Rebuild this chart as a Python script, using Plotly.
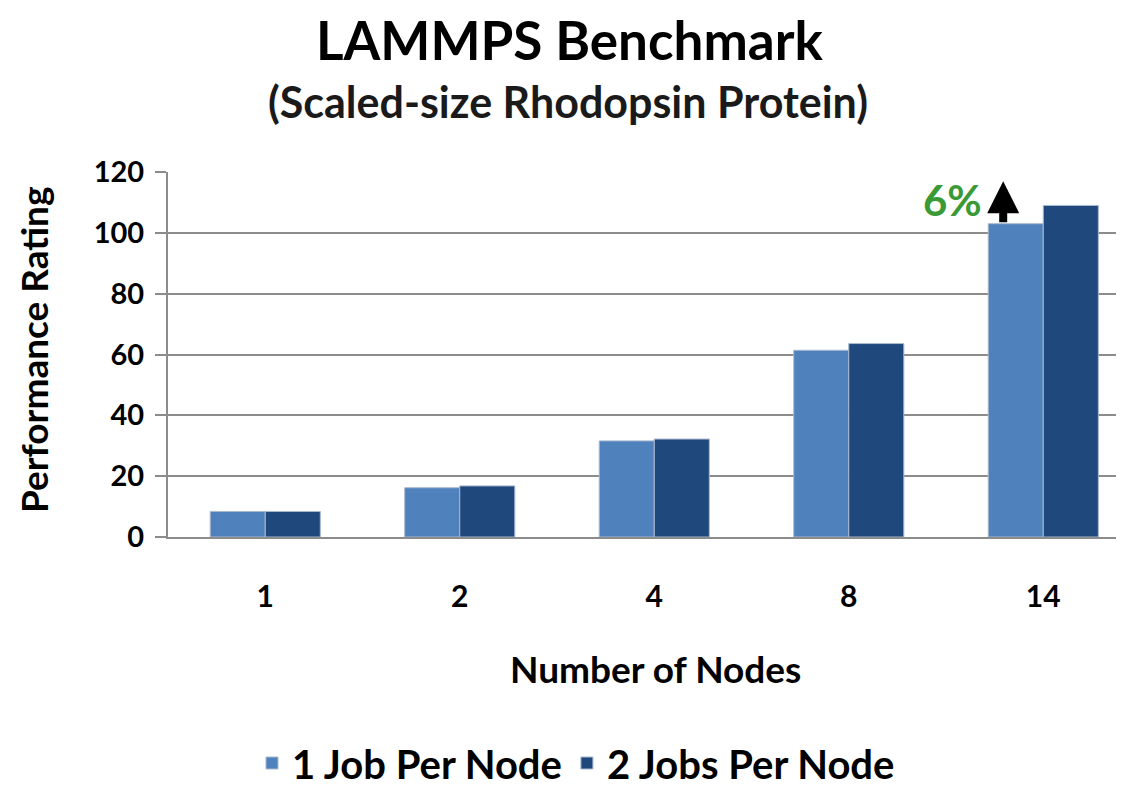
import plotly.graph_objects as go

categories = ["1", "2", "4", "8", "14"]
one_job = [8.4, 16.2, 31.6, 61.4, 103.0]
two_jobs = [8.4, 16.8, 32.2, 63.6, 109.0]
series_names = ["1 Job Per Node", "2 Jobs Per Node"]
y_ticks = [0, 20, 40, 60, 80, 100, 120]
gain_label = "6%"

FONT = "Lato"
light = "#4f81bd"
dark = "#1f497d"
grid = "#8c8c8c"

fig = go.Figure()
fig.add_trace(go.Bar(x=categories, y=one_job, name=series_names[0],
                     marker=dict(color=light, line=dict(color="#a9b9cf", width=1))))
fig.add_trace(go.Bar(x=categories, y=two_jobs, name=series_names[1],
                     marker=dict(color=dark, line=dict(color="#a9b9cf", width=1))))

OFF = 8  # page body margin
W, H = 1124, 789
# desired plot area in page pixels
L_PAGE, R_PAGE, T_PAGE, B_PAGE = 168, 1124, 172, 537
ml = L_PAGE - OFF
mt = T_PAGE - OFF
mb = H - (B_PAGE - OFF)
mr = W - (R_PAGE - OFF)

fig.update_layout(
    width=W, height=H,
    margin=dict(l=ml, r=mr, t=mt, b=mb, autoexpand=False),
    paper_bgcolor="white", plot_bgcolor="white",
    barmode="group", bargap=0.434, bargroupgap=0,
    font=dict(family=FONT, color="black"),
    showlegend=True,
    legend=dict(orientation="h", x=(576 - L_PAGE) / (R_PAGE - L_PAGE), xanchor="center",
                y=(B_PAGE - 763) / (B_PAGE - T_PAGE), yanchor="middle",
                font=dict(family=FONT, size=40, color="black", weight="bold"),
                itemwidth=30, tracegroupgap=0, bgcolor="rgba(0,0,0,0)"),
    xaxis=dict(type="category", range=[-0.5, 4.415], showgrid=False,
               showline=True, linecolor=grid, linewidth=2, ticks="",
               tickfont=dict(family=FONT, size=30, color="black", weight="bold"),
               ticklabelstandoff=32),
    yaxis=dict(range=[0, 120], tickvals=y_ticks, showgrid=True, gridcolor=grid, gridwidth=2,
               showline=True, linecolor=grid, linewidth=2, ticks="outside", ticklen=11,
               tickcolor=grid, tickwidth=2, zeroline=False,
               tickfont=dict(family=FONT, size=29, color="black", weight="bold"),
               ticklabelstandoff=5),
)

def py(pix):
    return (B_PAGE - pix) / (B_PAGE - T_PAGE)

def px(pix):
    return (pix - L_PAGE) / (R_PAGE - L_PAGE)

annotations = [
    dict(text="<b>LAMMPS Benchmark</b>", x=px(569), y=py(40), xref="paper", yref="paper",
         showarrow=False, font=dict(family=FONT, size=53, color="black"), xanchor="center", yanchor="middle"),
    dict(text="<b>(Scaled-size Rhodopsin Protein)</b>", x=px(568), y=py(101), xref="paper", yref="paper",
         showarrow=False, font=dict(family=FONT, size=43, color="#1a1a1a"), xanchor="center", yanchor="middle"),
    dict(text="<b>Number of Nodes</b>", x=px(655), y=py(668), xref="paper", yref="paper",
         showarrow=False, font=dict(family=FONT, size=37, color="black"), xanchor="center", yanchor="middle"),
    dict(text="<b>Performance Rating</b>", x=px(33), y=py(350), xref="paper", yref="paper",
         showarrow=False, textangle=-90, font=dict(family=FONT, size=37, color="black"),
         xanchor="center", yanchor="middle"),
    dict(text="<b>" + gain_label + "</b>", x=px(952), y=py(200), xref="paper", yref="paper",
         showarrow=False, font=dict(family=FONT, size=42, color="#3a9a35"),
         xanchor="center", yanchor="middle"),
    dict(text="", x=4 - 0.206, y=117, ax=4 - 0.206, ay=one_job[4], xref="x", yref="y",
         axref="x", ayref="y", showarrow=True, arrowhead=2, arrowsize=0.8, arrowwidth=8,
         arrowcolor="black", standoff=0, startstandoff=0),
]
fig.update_layout(annotations=annotations)

fig.write_html("out.html")
